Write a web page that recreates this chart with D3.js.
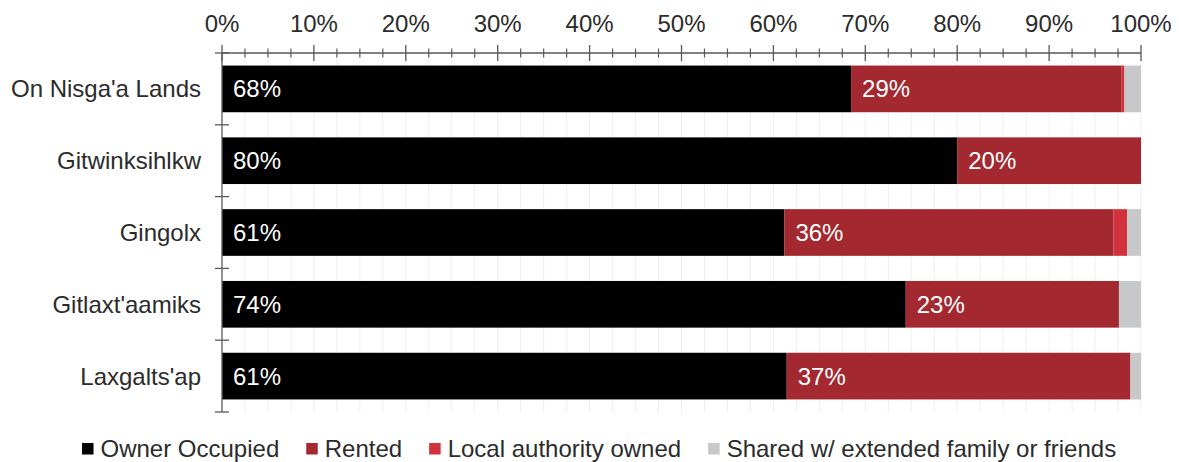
<!DOCTYPE html>
<html>
<head>
<meta charset="utf-8">
<script src="https://cdn.jsdelivr.net/npm/d3@7"></script>
<style>
  html, body { margin: 0; padding: 0; background: #fff; }
  svg { display: block; font-family: "Liberation Sans", Arial, sans-serif; }
</style>
</head>
<body>
<svg id="chart" width="1179" height="462"></svg>
<script>
// Housing tenure by community (share of households, %)
const communities = ["On Nisga'a Lands", "Gitwinksihlkw", "Gingolx", "Gitlaxt'aamiks", "Laxgalts'ap"];
const seriesNames = ["Owner Occupied", "Rented", "Local authority owned", "Shared w/ extended family or friends"];
const ownerOccupied = [68.45, 80.0, 61.2, 74.4, 61.45];
const rented        = [29.45, 20.0, 35.8, 23.2, 37.4];
const localAuthority = [0.3, 0.0, 1.5, 0.0, 0.0];
const sharedFamily  = [1.8, 0.0, 1.5, 2.4, 1.15];
const seriesColors = ["#000000", "#a3282f", "#d2323c", "#c7c8ca"];
const xTickValues = [0, 10, 20, 30, 40, 50, 60, 70, 80, 90, 100];

const seriesValues = [ownerOccupied, rented, localAuthority, sharedFamily];
const rows = communities.map((c, i) => {
  const r = { community: c };
  seriesNames.forEach((s, k) => { r[s] = seriesValues[k][i]; });
  return r;
});

const svg = d3.select("#chart");
const plotLeft = 222, plotRight = 1141, plotTop = 53, plotBottom = 412;
const textColor = "#2b2b2b";
const axisColor = "#595959";
const fontSize = 24;

const x = d3.scaleLinear().domain([0, 100]).range([plotLeft, plotRight]);
const y = d3.scaleBand().domain(communities).range([plotTop, plotBottom])
  .paddingInner(0.35).paddingOuter(0.175);

// faint vertical gridlines every 2.5%
const minorTicks = d3.range(0, 100.001, 2.5);
svg.append("g").selectAll("line").data(minorTicks.filter(d => d > 0)).join("line")
  .attr("x1", d => x(d)).attr("x2", d => x(d))
  .attr("y1", plotTop).attr("y2", plotBottom)
  .attr("stroke", "#efefef").attr("stroke-width", 1);

// stacked bars
const stack = d3.stack().keys(seriesNames);
const layers = stack(rows);
const colorOf = d3.scaleOrdinal().domain(seriesNames).range(seriesColors);

const barG = svg.append("g");
layers.forEach(layer => {
  barG.append("g").attr("fill", colorOf(layer.key))
    .selectAll("rect").data(layer).join("rect")
    .attr("x", d => x(d[0]))
    .attr("y", d => y(d.data.community))
    .attr("width", d => Math.max(0, x(d[1]) - x(d[0])))
    .attr("height", y.bandwidth());
});

// value labels on the first two series
const fmt = v => Math.round(v) + "%";
layers.slice(0, 2).forEach(layer => {
  barG.append("g").selectAll("text").data(layer).join("text")
    .attr("x", d => x(d[0]) + 11)
    .attr("y", d => y(d.data.community) + y.bandwidth() / 2)
    .attr("dy", "0.35em")
    .attr("fill", "#ffffff")
    .attr("font-size", fontSize)
    .text(d => fmt(d[1] - d[0]));
});

// top percentage axis
const xAxisG = svg.append("g");
xAxisG.append("line").attr("x1", plotLeft).attr("x2", plotRight).attr("y1", plotTop).attr("y2", plotTop)
  .attr("stroke", axisColor).attr("stroke-width", 1.3);
xAxisG.selectAll("line.minor").data(minorTicks.filter(d => d % 10 !== 0)).join("line")
  .attr("class", "minor")
  .attr("x1", d => x(d)).attr("x2", d => x(d))
  .attr("y1", plotTop - 4.5).attr("y2", plotTop + 4.5)
  .attr("stroke", axisColor).attr("stroke-width", 1.2);
xAxisG.selectAll("line.major").data(xTickValues).join("line")
  .attr("class", "major")
  .attr("x1", d => x(d)).attr("x2", d => x(d))
  .attr("y1", plotTop - 8).attr("y2", plotTop + 8)
  .attr("stroke", axisColor).attr("stroke-width", 1.3);
xAxisG.selectAll("text").data(xTickValues).join("text")
  .attr("x", d => x(d)).attr("y", 32)
  .attr("text-anchor", "middle")
  .attr("fill", textColor).attr("font-size", fontSize)
  .text(d => d + "%");

// left category axis
const yAxisG = svg.append("g");
yAxisG.append("line").attr("x1", plotLeft).attr("x2", plotLeft).attr("y1", plotTop).attr("y2", plotBottom)
  .attr("stroke", axisColor).attr("stroke-width", 1.3);
const boundaries = d3.range(communities.length + 1).map(i => plotTop + i * y.step());
yAxisG.selectAll("line.tick").data(boundaries).join("line")
  .attr("class", "tick")
  .attr("x1", plotLeft - 7).attr("x2", plotLeft + 7)
  .attr("y1", d => d).attr("y2", d => d)
  .attr("stroke", axisColor).attr("stroke-width", 1.3);
yAxisG.selectAll("text").data(communities).join("text")
  .attr("x", 201)
  .attr("y", d => y(d) + y.bandwidth() / 2)
  .attr("dy", "0.35em")
  .attr("text-anchor", "end")
  .attr("fill", textColor).attr("font-size", fontSize)
  .text(d => d);

// legend along the bottom
const legend = svg.append("g");
let lx = 82;
seriesNames.forEach((name, k) => {
  legend.append("rect")
    .attr("x", lx).attr("y", 443).attr("width", 11.5).attr("height", 11.5)
    .attr("fill", seriesColors[k]);
  const t = legend.append("text")
    .attr("x", lx + 18.5).attr("y", 457)
    .attr("fill", textColor).attr("font-size", fontSize)
    .text(name);
  lx += 18.5 + t.node().getComputedTextLength() + 27;
});
</script>
</body>
</html>
